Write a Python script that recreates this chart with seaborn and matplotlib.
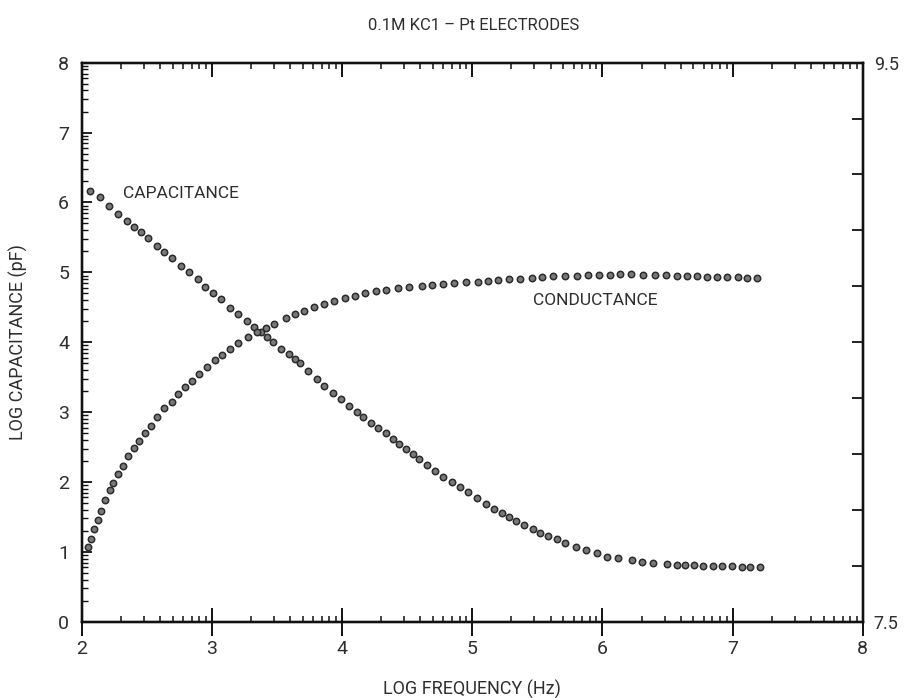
import numpy as np
import pandas as pd
import matplotlib
matplotlib.use("Agg")
import matplotlib.pyplot as plt
import seaborn as sns
from matplotlib.ticker import FixedLocator, NullFormatter

# ---------------- data ----------------
cond_x = [2.051, 2.071, 2.097, 2.123, 2.148, 2.179, 2.217, 2.243, 2.281, 2.320,
          2.358, 2.404, 2.440, 2.486, 2.532, 2.576, 2.635, 2.691, 2.738, 2.794,
          2.845, 2.901, 2.960, 3.024, 3.080, 3.139, 3.203, 3.275, 3.344, 3.414,
          3.480, 3.567, 3.639, 3.708, 3.785, 3.861, 3.941, 4.023, 4.100, 4.176,
          4.261, 4.338, 4.432, 4.517, 4.612, 4.689, 4.773, 4.862, 4.952, 5.042,
          5.124, 5.200, 5.285, 5.367, 5.456, 5.534, 5.618, 5.713, 5.803, 5.892,
          5.976, 6.059, 6.135, 6.220, 6.314, 6.404, 6.489, 6.571, 6.648, 6.725,
          6.801, 6.883, 6.955, 7.040, 7.113, 7.186]
cond_y = [1.073, 1.179, 1.326, 1.455, 1.588, 1.741, 1.884, 1.980, 2.113, 2.232,
          2.371, 2.481, 2.585, 2.695, 2.800, 2.924, 3.053, 3.147, 3.253, 3.353,
          3.443, 3.539, 3.639, 3.744, 3.815, 3.897, 3.983, 4.069, 4.140, 4.197,
          4.259, 4.340, 4.402, 4.449, 4.498, 4.545, 4.588, 4.627, 4.664, 4.698,
          4.731, 4.745, 4.770, 4.793, 4.807, 4.817, 4.827, 4.841, 4.856, 4.867,
          4.878, 4.888, 4.898, 4.907, 4.920, 4.936, 4.946, 4.946, 4.953, 4.956,
          4.960, 4.960, 4.970, 4.970, 4.964, 4.960, 4.960, 4.950, 4.946, 4.946,
          4.936, 4.936, 4.927, 4.927, 4.917, 4.913]

cap_x = [2.064, 2.141, 2.210, 2.281, 2.346, 2.404, 2.456, 2.507, 2.576, 2.635,
         2.696, 2.763, 2.824, 2.891, 2.947, 3.011, 3.070, 3.139, 3.203, 3.268,
         3.326, 3.375, 3.421, 3.472, 3.531, 3.593, 3.639, 3.677, 3.735, 3.805,
         3.863, 3.928, 3.990, 4.055, 4.113, 4.163, 4.222, 4.279, 4.338, 4.389,
         4.440, 4.491, 4.547, 4.594, 4.655, 4.714, 4.778, 4.842, 4.906, 4.970,
         5.039, 5.106, 5.170, 5.227, 5.285, 5.336, 5.398, 5.465, 5.521, 5.585,
         5.649, 5.713, 5.797, 5.876, 5.956, 6.033, 6.122, 6.225, 6.302, 6.387,
         6.494, 6.571, 6.635, 6.706, 6.775, 6.848, 6.917, 6.994, 7.070, 7.134,
         7.211]
cap_y = [6.166, 6.072, 5.951, 5.833, 5.737, 5.651, 5.579, 5.494, 5.375, 5.293,
         5.199, 5.089, 5.007, 4.898, 4.793, 4.698, 4.612, 4.492, 4.402, 4.306,
         4.220, 4.149, 4.077, 3.997, 3.901, 3.830, 3.754, 3.697, 3.591, 3.479,
         3.376, 3.272, 3.182, 3.089, 3.004, 2.931, 2.843, 2.767, 2.695, 2.614,
         2.542, 2.466, 2.395, 2.323, 2.242, 2.160, 2.074, 2.003, 1.931, 1.860,
         1.765, 1.684, 1.608, 1.551, 1.502, 1.445, 1.383, 1.322, 1.273, 1.230,
         1.179, 1.122, 1.073, 1.026, 0.979, 0.930, 0.907, 0.883, 0.858, 0.844,
         0.825, 0.818, 0.811, 0.807, 0.801, 0.797, 0.797, 0.793, 0.790, 0.787,
         0.787]

x_major = [2, 3, 4, 5, 6, 7, 8]
y_major = [0, 1, 2, 3, 4, 5, 6, 7, 8]
right_ticks = [7.5, 7.7, 7.9, 8.1, 8.3, 8.5, 8.7, 8.9, 9.1, 9.3, 9.5]
right_labels = ["7.5", "", "", "", "", "", "", "", "", "", "9.5"]

title = "0.1M KC1 – Pt ELECTRODES"
xlabel = "LOG FREQUENCY (Hz)"
ylabel = "LOG CAPACITANCE (pF)"

# ---------------- style ----------------
sns.set_style("ticks")
plt.rcParams["font.family"] = ["Roboto", "DejaVu Sans"]
plt.rcParams["font.weight"] = "normal"
TXT = "#2e2e2e"
INK = "#111111"

fig = plt.figure(figsize=(9.05, 6.98), dpi=100)
ax = fig.add_axes([0.0903, 0.1093, 0.8630, 0.8009])

df = pd.concat([
    pd.DataFrame({"x": cap_x, "y": cap_y, "series": "cap"}),
    pd.DataFrame({"x": cond_x, "y": cond_y, "series": "cond"}),
])
sns.scatterplot(data=df, x="x", y="y", ax=ax, color="#7a7a7a",
                edgecolor="#2b2b2b", linewidth=1.1, s=21, legend=False, zorder=3)

ax.set_xlim(2, 8)
ax.set_ylim(0, 8)

def log_minor(lo, hi):
    pos = []
    for d in range(lo, hi):
        for k in range(2, 10):
            pos.append(d + np.log10(k))
    return pos

ax.xaxis.set_major_locator(FixedLocator(x_major))
ax.xaxis.set_minor_locator(FixedLocator(log_minor(2, 8)))
ax.yaxis.set_major_locator(FixedLocator(y_major))
ax.yaxis.set_minor_locator(FixedLocator(log_minor(0, 8)))
ax.yaxis.set_minor_formatter(NullFormatter())
ax.xaxis.set_minor_formatter(NullFormatter())

for s in ax.spines.values():
    s.set_linewidth(1.6)
    s.set_color(INK)

ax.tick_params(axis="x", which="major", direction="inout", length=20, width=1.4,
               top=False, labelsize=14, labelcolor=TXT, pad=3, color=INK)
ax.tick_params(axis="x", which="minor", direction="in", length=4, width=1.1,
               top=False, color=INK)
ax.tick_params(axis="y", which="major", direction="in", length=7, width=1.3,
               labelsize=14, labelcolor=TXT, pad=9, color=INK)
ax.tick_params(axis="y", which="minor", direction="in", length=4, width=1.0,
               color=INK)
ax.set_xticklabels([str(v) for v in x_major])
ax.set_yticklabels([str(v) for v in y_major])

ax.set_xlabel(xlabel, fontsize=13, color=TXT, labelpad=16)
ax.set_ylabel(ylabel, fontsize=13, color=TXT, labelpad=22)
fig.text(0.523, 0.963, title, ha="center", va="center", fontsize=12, color=TXT)

ax.text(2.32, 6.13, "CAPACITANCE", fontsize=12.5, color=TXT, va="center", ha="left")
ax.text(5.47, 4.60, "CONDUCTANCE", fontsize=12.5, color=TXT, va="center", ha="left")

# top axis ticks (pointing inward only)
ax3 = ax.twiny()
ax3.set_xlim(2, 8)
ax3.xaxis.set_major_locator(FixedLocator(x_major))
ax3.xaxis.set_minor_locator(FixedLocator(log_minor(2, 8)))
ax3.xaxis.set_major_formatter(NullFormatter())
ax3.xaxis.set_minor_formatter(NullFormatter())
ax3.tick_params(axis="x", which="major", direction="in", length=10, width=1.4, color=INK)
ax3.tick_params(axis="x", which="minor", direction="in", length=4, width=1.1, color=INK)

# right axis
ax2 = ax.twinx()
ax2.set_ylim(7.5, 9.5)
ax2.yaxis.set_major_locator(FixedLocator(right_ticks))
ax2.set_yticklabels(right_labels)
ax2.tick_params(axis="y", direction="in", length=8, width=1.3, labelsize=13,
                labelcolor=TXT, pad=8, color=INK)
for a in (ax2, ax3):
    for s in a.spines.values():
        s.set_linewidth(1.6)
        s.set_color(INK)

fig.savefig("out.png", dpi=100, facecolor="white")
